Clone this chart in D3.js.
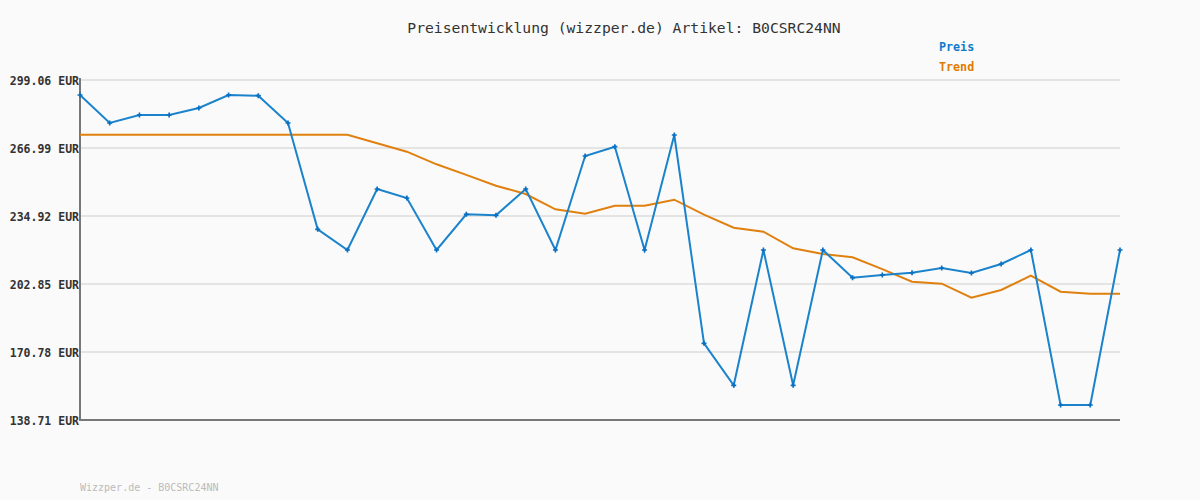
<!DOCTYPE html>
<html><head><meta charset="utf-8">
<script src="https://cdn.jsdelivr.net/npm/d3@7"></script>
<style>
html,body{margin:0;padding:0;background:#fafafa;}
svg{display:block;}
text{font-family:"DejaVu Sans Mono","Liberation Mono",monospace;}
</style></head>
<body><svg id="chart" width="1200" height="500"></svg>
<script>
const titleText = "Preisentwicklung (wizzper.de) Artikel: B0CSRC24NN";
const footerText = "Wizzper.de - B0CSRC24NN";
const seriesNames = ["Preis", "Trend"];
const yTicks = [138.71, 170.78, 202.85, 234.92, 266.99, 299.06];
const preis = [291.99, 278.78, 282.55, 282.55, 285.85, 291.99, 291.66, 278.78, 228.65, 218.88,
  247.65, 243.41, 218.88, 235.72, 235.25, 247.65, 218.88, 263.22, 267.60, 218.88,
  273.12, 174.88, 155.08, 218.88, 155.08, 218.88, 205.82, 207.09, 208.17, 210.39,
  208.03, 212.28, 218.88, 145.78, 145.78, 218.88];
const trend = [273.26, 273.26, 273.26, 273.26, 273.26, 273.26, 273.26, 273.26, 273.26, 273.26,
  269.21, 265.25, 259.30, 254.30, 249.21, 245.30, 238.08, 236.01, 239.78, 239.78,
  242.61, 235.53, 229.40, 227.52, 219.69, 217.00, 215.44, 209.88, 203.93, 202.99,
  196.39, 200.02, 206.76, 199.22, 198.28, 198.28];

(function () {
const svg = d3.select("#chart");
const pL = 80, pR = 1120, pT = 80, pB = 420;
const x = d3.scaleLinear().domain([0, preis.length - 1]).range([pL, pR]);
const y = d3.scaleLinear().domain([yTicks[0], yTicks[yTicks.length - 1]]).range([pB, pT]);
const blue = "#1a83cc", orange = "#e0800f";

svg.append("rect").attr("width", 1200).attr("height", 500).attr("fill", "#fafafa");

// gridlines
svg.append("g").selectAll("line").data(yTicks.slice(1)).join("line")
  .attr("x1", pL).attr("x2", pR)
  .attr("y1", d => y(d)).attr("y2", d => y(d))
  .attr("stroke", "#e4e4e4").attr("stroke-width", 2);

// y labels
const yAxis = d3.axisLeft(y).tickValues(yTicks).tickSize(0).tickPadding(1)
  .tickFormat(d => d.toFixed(2) + " EUR");
const ya = svg.append("g").attr("transform", `translate(${pL},0)`).call(yAxis);
ya.select(".domain").remove();
ya.selectAll("text").attr("font-family", "'DejaVu Sans Mono',monospace")
  .attr("font-size", 11.5).attr("font-weight", "bold").attr("fill", "#333").attr("dy", "0.35em");

// axes lines
svg.append("line").attr("x1", pL).attr("x2", pL).attr("y1", pT - 2).attr("y2", pB)
  .attr("stroke", "#777").attr("stroke-width", 2);
svg.append("line").attr("x1", pL - 1).attr("x2", pR).attr("y1", pB).attr("y2", pB)
  .attr("stroke", "#777").attr("stroke-width", 2);

const line = d3.line().x((d, i) => x(i)).y(d => y(d));
svg.append("path").datum(trend).attr("d", line).attr("fill", "none")
  .attr("stroke", orange).attr("stroke-width", 2);
svg.append("path").datum(preis).attr("d", line).attr("fill", "none")
  .attr("stroke", blue).attr("stroke-width", 2);

// markers
const sym = d3.symbol().type(d3.symbolCross).size(14);
svg.append("g").selectAll("path").data(preis).join("path")
  .attr("d", sym).attr("transform", (d, i) => `translate(${x(i)},${y(d)})`)
  .attr("fill", "#0a6fc0");

// title
svg.append("text").attr("x", 624).attr("y", 33).attr("text-anchor", "middle")
  .attr("font-size", 14.7).attr("fill", "#333").text(titleText);

// legend
svg.append("g").selectAll("text").data(seriesNames).join("text")
  .attr("x", 939).attr("y", (d, i) => 51 + i * 20)
  .attr("font-size", 11.7).attr("font-weight", "bold")
  .attr("fill", (d, i) => i === 0 ? "#0f7acb" : "#e07b00").text(d => d);

// footer
svg.append("text").attr("x", 80).attr("y", 491).attr("font-size", 10)
  .attr("fill", "#bbb").text(footerText);
})();
</script></body></html>
